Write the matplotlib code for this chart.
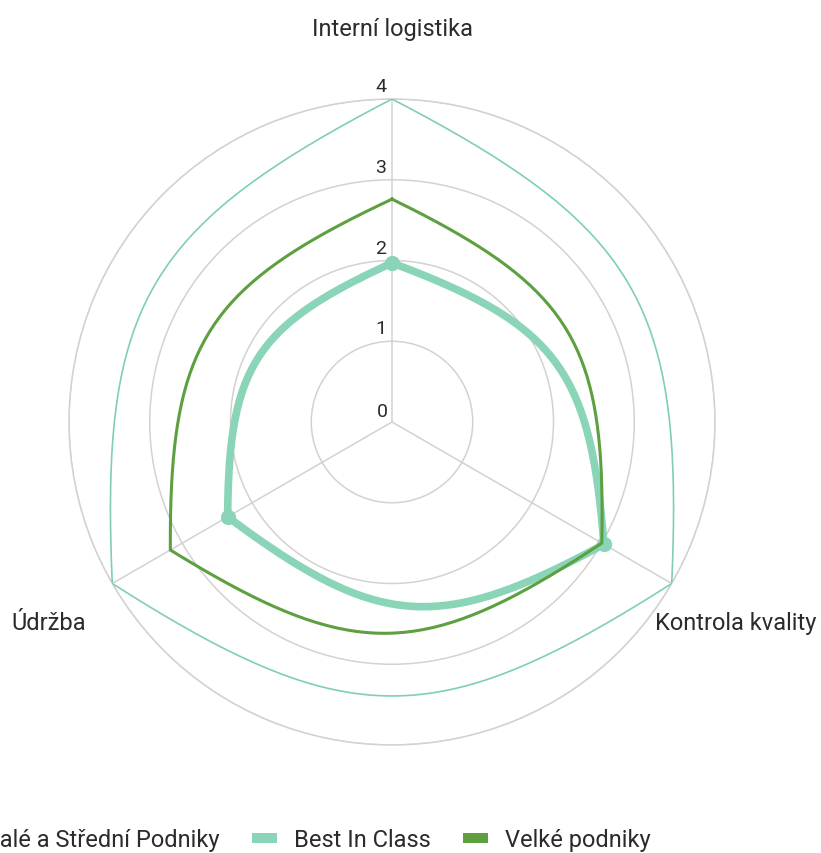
import numpy as np
from matplotlib import pyplot
from matplotlib import patches

pyplot.rcParams['font.family'] = ['Roboto', 'DejaVu Sans']

categories = ['Interní logistika', 'Kontrola kvality', 'Údržba']
series_names = ['Malé a Střední Podniky', 'Best In Class', 'Velké podniky']
male_stredni = [1.97, 3.03, 2.35]
best_in_class = [4.0, 4.0, 4.0]
velke = [2.76, 3.0, 3.17]
r_ticks = [0, 1, 2, 3, 4]

MINT = '#8ad5b8'
MINT_THIN = '#7fcfb4'
GREEN = '#5e9f3f'
GRID = '#d2d2d2'
TEXT = '#2b2b2b'


def curved_outline(values, n=80):
    # each edge is a cubic bezier bowed outward, corners kept at the vertices
    ang = np.arange(len(values)) * 2 * np.pi / len(values)
    pts = np.column_stack([np.array(values) * np.sin(ang), np.array(values) * np.cos(ang)])
    p, q = 0.42, 0.268
    t = np.linspace(0, 1, n)[:, None]
    out = []
    for i in range(len(pts)):
        a = pts[i]
        b = pts[(i + 1) % len(pts)]
        d = b - a
        nrm = np.array([-d[1], d[0]])  # outward for clockwise order
        c1 = a + p * d + q * nrm
        c2 = b - p * d + q * nrm
        seg = ((1 - t) ** 3) * a + 3 * ((1 - t) ** 2) * t * c1 + 3 * (1 - t) * t ** 2 * c2 + t ** 3 * b
        out.append(seg)
    xy = np.vstack(out)
    theta = np.unwrap(np.arctan2(xy[:, 0], xy[:, 1]))
    r = np.hypot(xy[:, 0], xy[:, 1])
    return theta, r


fig = pyplot.figure(figsize=(8.21, 8.54), dpi=100)
ax = fig.add_axes([69 / 821, 108 / 854, 646 / 821, 646 / 854], projection='polar')
ax.set_theta_zero_location('N')
ax.set_theta_direction(-1)
ax.set_ylim(0, 4)

angles = np.arange(len(categories)) * 2 * np.pi / len(categories)

ax.set_xticks(angles)
ax.set_xticklabels([])
ax.set_yticks(r_ticks[1:])
ax.set_yticklabels([])
ax.grid(True, color=GRID, linewidth=1.1)
ax.spines['polar'].set_color(GRID)
ax.spines['polar'].set_linewidth(1.1)
ax.tick_params(length=0)

th, rr = curved_outline(male_stredni)
ax.plot(th, rr, color=MINT, linewidth=5.5, solid_capstyle='round', zorder=3)
ax.plot(angles, male_stredni, 'o', color=MINT, markersize=10, zorder=4)

th, rr = curved_outline(best_in_class)
ax.plot(th, rr, color=MINT_THIN, linewidth=1.2, zorder=3)

th, rr = curved_outline(velke)
ax.plot(th, rr, color=GREEN, linewidth=2.2, zorder=5)

for v in r_ticks:
    off = (-10, 11) if v == 0 else (-11, 13)
    ax.annotate(str(v), xy=(0, v), xytext=off, textcoords='offset pixels',
                ha='center', va='center', fontsize=14, color=TEXT, zorder=6)

ax.annotate(categories[0], xy=(angles[0], 4), xytext=(0, 64), textcoords='offset pixels',
            ha='center', va='baseline', fontsize=17, color=TEXT, annotation_clip=False)
ax.annotate(categories[1], xy=(angles[1], 4), xytext=(-17, -46), textcoords='offset pixels',
            ha='left', va='baseline', fontsize=17, color=TEXT, annotation_clip=False)
ax.annotate(categories[2], xy=(angles[2], 4), xytext=(-26, -46), textcoords='offset pixels',
            ha='right', va='baseline', fontsize=17, color=TEXT, annotation_clip=False)

legend_elements = [patches.Patch(facecolor=MINT, label=series_names[0]),
                   patches.Patch(facecolor=MINT, label=series_names[1]),
                   patches.Patch(facecolor=GREEN, label=series_names[2])]
leg = fig.legend(handles=legend_elements, loc='center right', bbox_to_anchor=(660 / 821, 13 / 854),
                 ncol=3, frameon=False, fontsize=17, handlelength=1.06, handleheight=0.3,
                 handletextpad=0.72, columnspacing=1.36, borderaxespad=0)
for txt in leg.get_texts():
    txt.set_color(TEXT)

pyplot.savefig('out.png', dpi=100)
